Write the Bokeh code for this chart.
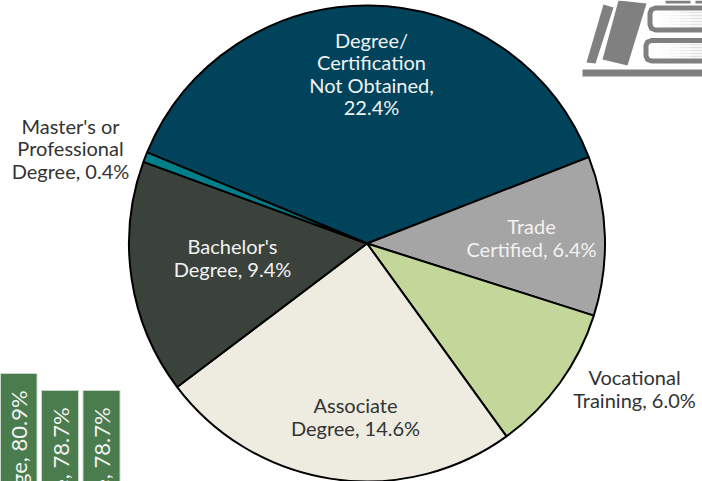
from bokeh.plotting import figure
from bokeh.embed import file_html
from bokeh.resources import INLINE
from bokeh.models import Range1d
from bokeh.core.properties import value
import numpy as np

labels = ["Degree/\nCertification\nNot Obtained,\n22.4%", "Trade\nCertified, 6.4%", "Vocational\nTraining, 6.0%",
          "Associate\nDegree, 14.6%", "Bachelor's\nDegree, 9.4%", "Master's or\nProfessional\nDegree, 0.4%"]
values = [22.4, 6.4, 6.0, 14.6, 9.4, 0.4]
colors = ["#00435a", "#a5a5a5", "#c4d79b", "#eeece1", "#3b423c", "#007e8a"]
label_x = [371, 531, 634, 355, 232, 70]
label_y = [73, 237, 388, 416, 257, 148]
label_colors = ["#f2f2f2", "#f2f2f2", "#333333", "#333333", "#f2f2f2", "#333333"]

bar_labels = ["College, 80.9%", "Associate, 78.7%", "Trade, 78.7%"]
bar_values = [80.9, 78.7, 78.7]
bar_x = [18, 59.5, 101]

FONT = "Lato"
FS = "20px"
H = 481


def Y(v):
    return [H - a for a in v]


p = figure(width=702, height=481, output_backend="svg", toolbar_location=None,
           x_range=Range1d(0, 702), y_range=Range1d(0, H),
           min_border=0, outline_line_color=None)
p.axis.visible = False
p.grid.visible = False

# book icon
gray = "#808080"
p.patches(xs=[[603, 613, 595, 586], [618, 646, 627, 602]], ys=[Y([4, 7, 63, 62]), Y([0, 3, 65, 59])],
          fill_color=gray, line_color=None)
p.quad(left=[582], right=[702], top=Y([69]), bottom=Y([76]), fill_color=gray, line_color=None)
p.multi_line(xs=[[702, 655, 651, 649.5, 649.5, 651, 655, 702], [702, 651, 647, 645.5, 645.5, 647, 651, 702]],
             ys=[Y([7.5, 7.5, 9, 13, 24, 28, 29.5, 29.5]), Y([40, 40, 41.5, 45, 55.5, 59, 60.5, 60.5])],
             line_color=gray, line_width=5, line_join="round")
stripe_rows = [12, 15, 18, 21, 24, 27, 44, 47, 50, 53, 56]
stripe_steps = [(660, 670, 0.04), (670, 680, 0.09), (680, 690, 0.16), (690, 702, 0.24)]
for yy in stripe_rows:
    for xa, xb, al in stripe_steps:
        p.line([xa, xb], Y([yy, yy]), line_color=gray, line_alpha=al, line_width=1.5)
p.quad(left=[665, 695], right=[690, 702], top=Y([0, 0]), bottom=Y([3, 3]), fill_color=gray, line_color=None)

# green bars
p.extra_y_ranges = {"bars": Range1d(66.92, 129.17)}
p.vbar(x=bar_x, width=37, top=bar_values, bottom=0, y_range_name="bars",
       fill_color="#4a7c4e", line_color="#c9d6ca", line_width=1)
p.text(x=bar_x, y=bar_values, text=bar_labels, y_range_name="bars", angle=np.pi / 2,
       text_align="right", text_baseline="middle", y_offset=17, text_color="#f2f2f2",
       text_font=value(FONT), text_font_size="22px")

# pie
arr = np.array(values)
frac = arr / arr.sum() * 2 * np.pi
start_angle = np.pi * 157.5 / 180
ends = start_angle - np.cumsum(frac)
starts = np.concatenate([[start_angle], ends[:-1]])
p.wedge(x=366.5, y=H - 243, radius=238, start_angle=ends, end_angle=starts, direction="anticlock",
        fill_color=colors, line_color="black", line_width=2)

for t, x, y, c in zip(labels, label_x, label_y, label_colors):
    p.text(x=[x], y=[H - y], text=[t], text_align="center", text_baseline="middle", text_color=c,
           text_font=value(FONT), text_font_size=FS, text_line_height=0.94)

html = file_html(p, INLINE).replace("<head>", "<head><style>html,body{margin:0;padding:0;overflow:hidden}</style>", 1)
open("out.html", "w").write(html)
